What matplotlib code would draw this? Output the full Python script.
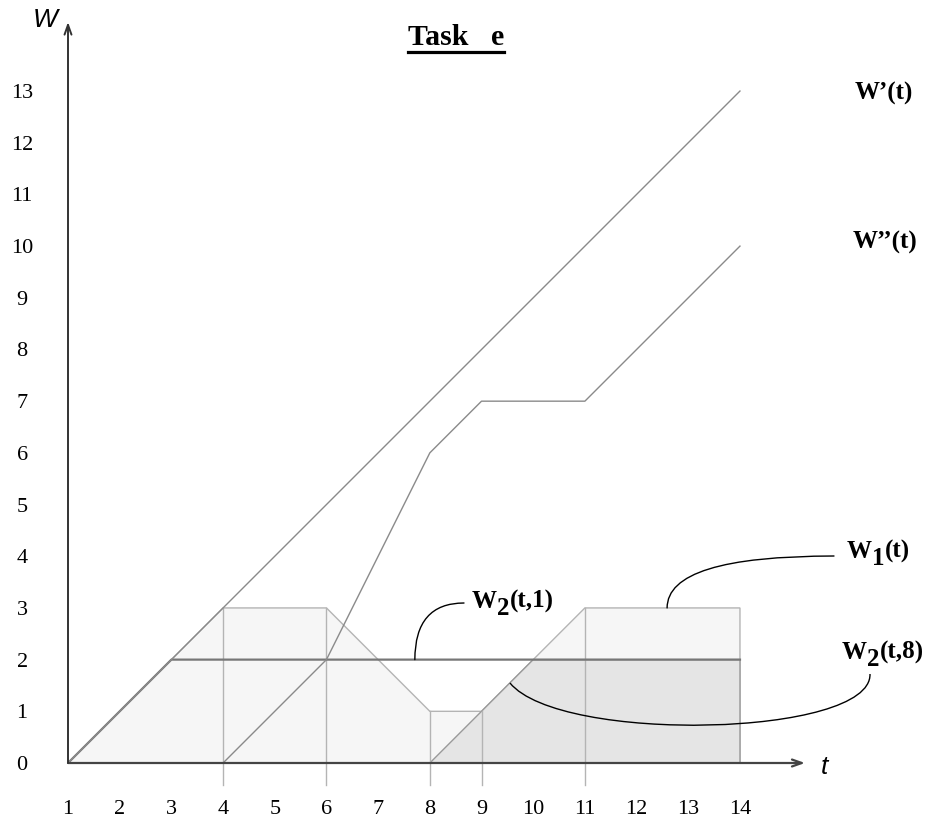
import matplotlib
matplotlib.use("Agg")
import matplotlib.pyplot as plt
import numpy as np
from matplotlib.path import Path
from matplotlib.patches import PathPatch, Polygon
from matplotlib.lines import Line2D

# ---------------- data ----------------
x_ticks = list(range(1, 15))
y_ticks = list(range(0, 14))

wp_t = [1, 14]                 # W'(t)
wp_v = [0, 13]
wpp_t = [4, 6, 8, 9, 11, 14]   # W''(t)
wpp_v = [0, 2, 6, 7, 7, 10]
w1_t = [1, 4, 6, 8, 9, 11, 14, 14]   # W1(t) region outline
w1_v = [0, 3, 3, 1, 1, 3, 3, 0]
w21_t = [1, 3, 14]             # W2(t,1)
w21_v = [0, 2, 2]
w28_t = [8, 10, 14, 14]        # W2(t,8) region
w28_v = [0, 2, 2, 0]
guide_t = [4, 6, 8, 9, 11]     # vertical guide lines
guide_v = [3, 3, 1, 1, 3]

# ---------------- figure ----------------
W, H = 930, 823
fig = plt.figure(figsize=(W / 100, H / 100), dpi=100)
ox, oy = 68, 763          # pixel of origin (t=1, w=0), from top
s = 51.69                 # pixels per unit
ax = fig.add_axes([ox / W, (H - oy) / H, (W - ox) / W, oy / H])
ax.set_xlim(1, 1 + (W - ox) / s)
ax.set_ylim(0, oy / s)
for sp in ax.spines.values():
    sp.set_visible(False)

serif = "Liberation Serif"
sans = "Liberation Sans"

ax.set_xticks(x_ticks)
ax.set_xticklabels([str(v) for v in x_ticks], fontfamily=serif, fontsize=16)
ax.set_yticks(y_ticks)
ax.set_yticklabels([str(v) for v in y_ticks], fontfamily=serif, fontsize=16)
ax.tick_params(axis="x", length=0, pad=27)
ax.tick_params(axis="y", length=0, pad=33)
for lab in ax.get_yticklabels():
    lab.set_horizontalalignment("center")

light_edge = "#b4b4b4"
# W1 region
ax.add_patch(Polygon(np.column_stack([w1_t, w1_v]), closed=True,
                     facecolor="#f6f6f6", edgecolor=light_edge, lw=1.0, zorder=1))
# W2(t,8) region
ax.add_patch(Polygon(np.column_stack([w28_t, w28_v]), closed=True,
                     facecolor="#e5e5e5", edgecolor="#9a9a9a", lw=1.0, zorder=2))
# guides
for gt, gv in zip(guide_t, guide_v):
    ax.add_line(Line2D([gt, gt], [-0.42, gv], color=light_edge, lw=1.0,
                       zorder=3, clip_on=False))

# lines
ax.plot(w21_t, w21_v, color="#777777", lw=1.6, zorder=4)
ax.plot(wp_t, wp_v, color="#8a8a8a", lw=1.0, zorder=4)
ax.plot(wpp_t, wpp_v, color="#8a8a8a", lw=1.0, zorder=4)

# axes with arrows
x_end = 1 + (805 - ox) / s
y_end = (oy - 22) / s
ax.annotate("", xy=(x_end, 0), xytext=(1, 0),
            arrowprops=dict(arrowstyle="->,head_length=0.7,head_width=0.25",
                            color="#444444", lw=1.6, shrinkA=0, shrinkB=0),
            zorder=5, annotation_clip=False)
ax.annotate("", xy=(1, y_end), xytext=(1, 0),
            arrowprops=dict(arrowstyle="->,head_length=0.7,head_width=0.25",
                            color="#333333", lw=1.4, shrinkA=0, shrinkB=0),
            zorder=5, annotation_clip=False)


def d(px, py):
    """pixel (from top-left) -> data"""
    return (1 + (px - ox) / s, (oy - py) / s)


ax.text(*d(45, 20), "W", fontfamily=sans, style="italic", fontsize=19,
        ha="center", va="center")
ax.text(*d(824, 767), "t", fontfamily=sans, style="italic", fontsize=19,
        ha="center", va="center")

# title with underline
title = ax.text(*d(456, 45), "Task   e", fontfamily=serif, fontweight="bold",
                fontsize=21.5, ha="center", va="baseline")

fig.canvas.draw()
renderer = fig.canvas.get_renderer()
bb = title.get_window_extent(renderer)
uy = H - 52
fig.add_artist(Line2D([bb.x0 / W, bb.x1 / W], [uy / H, uy / H],
                      color="black", lw=2.3, transform=fig.transFigure))


def label(px, py, parts, size=18):
    """draw bold serif text pieces left to right; parts: (text, dy_px)"""
    x = px
    for txt, dy in parts:
        t = fig.text(x / W, (H - py - dy) / H, txt, fontfamily=serif,
                     fontweight="bold", fontsize=size, ha="left", va="baseline")
        e = t.get_window_extent(renderer)
        x += e.width


label(855, 100, [("W\u2019(t)", 0)])
label(853, 249, [("W\u2019\u2019(t)", 0)])
label(847, 558, [("W", 0), ("1", 7), ("(t)", 0)])
label(472, 608, [("W", 0), ("2", 7), ("(t,1)", 0)])
label(842, 659, [("W", 0), ("2", 7), ("(t,8)", 0)])

# leader curves
ax.annotate("", xy=(7.71, 2), xytext=d(464, 603),
            arrowprops=dict(arrowstyle="-", color="black", lw=1.0,
                            shrinkA=0, shrinkB=0,
                            connectionstyle="angle3,angleA=0,angleB=90"),
            zorder=6)
ax.annotate("", xy=(12.59, 3), xytext=d(834, 556),
            arrowprops=dict(arrowstyle="-", color="black", lw=1.0,
                            shrinkA=0, shrinkB=0,
                            connectionstyle="angle3,angleA=0,angleB=90"),
            zorder=6)
pts = [d(510, 683), d(560, 744), d(872, 737), d(870, 674)]
ax.add_patch(PathPatch(Path(pts, [Path.MOVETO, Path.CURVE4, Path.CURVE4, Path.CURVE4]),
                       facecolor="none", edgecolor="black", lw=1.0, zorder=6,
                       clip_on=False))

fig.savefig("out.png", dpi=100)
